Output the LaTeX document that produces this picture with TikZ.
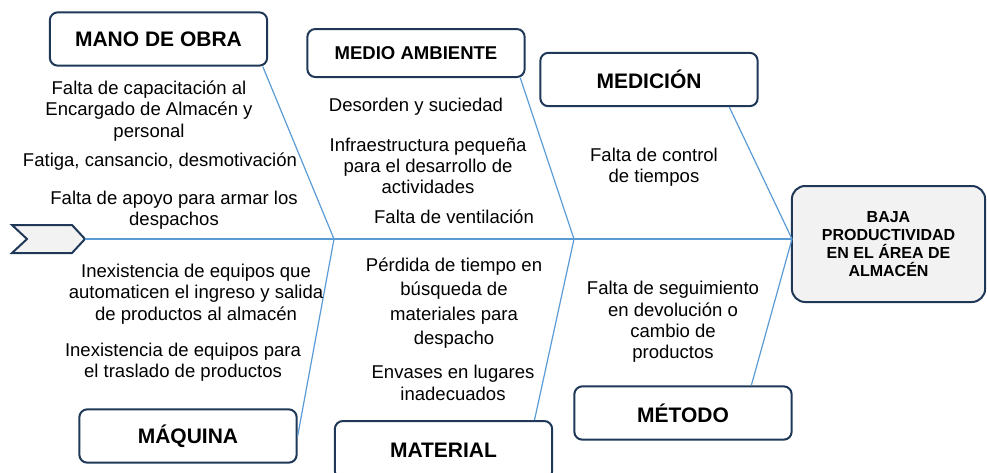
\documentclass[tikz,border=0pt]{standalone}
\usepackage{fontspec}
\setmainfont{Liberation Sans}
\definecolor{navy}{RGB}{31,56,88}
\definecolor{bone}{RGB}{91,155,213}
\definecolor{shade}{RGB}{242,242,242}
\tikzset{
  cat/.style={rectangle, rounded corners=6pt, draw=navy, line width=1.5pt, fill=white,
    minimum width=163pt, minimum height=40pt, font=\bfseries\fontsize{15.75}{18}\selectfont},
  cause/.style={align=center, inner sep=0pt, font=\fontsize{13.9}{16}\selectfont},
  bonel/.style={draw=bone, line width=0.9pt}
}

\begin{document}
\begin{tikzpicture}[x=0.75pt, y=-0.75pt]
            \useasboundingbox (0,0) rectangle (987,472);
            % tail of the fish
            \draw[navy, line width=1.5pt, fill=shade, line join=miter]
              (12,225) -- (72,225) -- (85,239) -- (72,253) -- (12,253) -- (27,239) -- cycle;
            \coordinate (tail) at (85,239);
            \coordinate (j1) at (334,239);
            \coordinate (j2) at (574,239);
            \coordinate (head) at (792,239);
            % categories
            \node at (158.5,39) [cat] (mano) {MANO DE OBRA};
            \node at (416,53) [cat, minimum height=36pt, font=\bfseries\fontsize{13.9}{16}\selectfont] (medio) {MEDIO AMBIENTE};
            \node at (649,79.5) [cat] (medicion) {MEDICIÓN};
            \node at (188,436) [cat] (maquina) {MÁQUINA};
            \node at (443.5,450) [cat, minimum height=43.5pt] (material) {MATERIAL};
            \node at (683,413) [cat] (metodo) {MÉTODO};
            \node at (888.5,244) [cat, fill=shade, rounded corners=10pt, minimum width=145pt, minimum height=87pt,
              align=center, font=\bfseries\fontsize{12}{13.5}\selectfont] (effect) {BAJA\\PRODUCTIVIDAD\\EN EL ÁREA DE\\ALMACÉN};
            % bones
            \draw[bonel] (tail) -- (head);
            \draw[bonel] ([xshift=-4pt]mano.south east) -- (j1);
            \draw[bonel] (maquina.east) -- (j1);
            \draw[bonel] ([xshift=-4pt]medio.south east) -- (j2);
            \draw[bonel] ([xshift=-14pt]material.north east) -- (j2);
            \draw[bonel] ([xshift=-22pt]medicion.south east) -- (head);
            \draw[bonel] ([xshift=-31pt]metodo.north east) -- (head);
            % causes
            \node at (149,111) [cause] (c1) {Falta de capacitación al\\Encargado de Almacén y\\personal};
            \node at (160,162) [cause] (c2) {Fatiga, cansancio, desmotivación};
            \node at (174,210) [cause] (c3) {Falta de apoyo para armar los\\despachos};
            \node at (196,294) [cause] (c4) {Inexistencia de equipos que\\automaticen el ingreso y salida\\de productos al almacén};
            \node at (183,362) [cause] (c5) {Inexistencia de equipos para\\el traslado de productos};
            \node at (416,107) [cause] (c6) {Desorden y suciedad};
            \node at (428,166) [cause] (c7) {Infraestructura pequeña\\para el desarrollo de\\actividades};
            \node at (454,217) [cause] (c8) {Falta de ventilación};
            \node at (654,167) [cause] (c9) {Falta de control\\de tiempos};
            \node at (454,303) [cause, font=\fontsize{13.9}{18.4}\selectfont] (c10) {Pérdida de tiempo en\\búsqueda de\\materiales para\\despacho};
            \node at (453,383) [cause] (c11) {Envases en lugares\\inadecuados};
            \node at (673,322) [cause] (c12) {Falta de seguimiento\\en devolución o\\cambio de\\productos};
        \end{tikzpicture}
\end{document}
